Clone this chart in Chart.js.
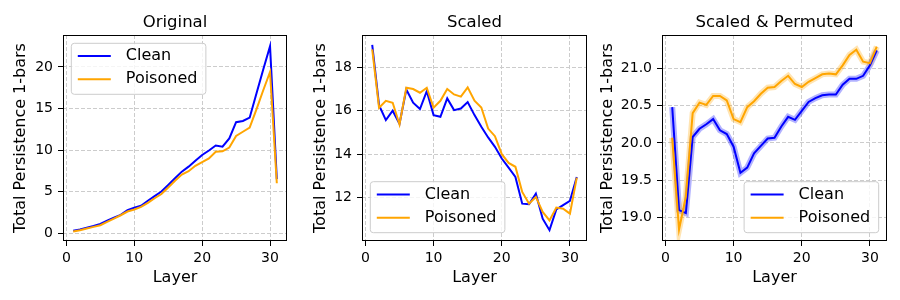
<!DOCTYPE html>
<html>
<head>
<meta charset="utf-8">
<script src="https://cdn.jsdelivr.net/npm/chart.js@4.4.1/dist/chart.umd.min.js"></script>
<style>
  body { margin: 0; background: #fff; }
  #wrap { position: relative; width: 900px; height: 300px; }
  .panel { position: absolute; top: 0; width: 300px; height: 300px; }
</style>
</head>
<body>
<div id="wrap">
  <div class="panel" style="left:0px"><canvas id="c1" width="300" height="300"></canvas></div>
  <div class="panel" style="left:300px"><canvas id="c2" width="300" height="300"></canvas></div>
  <div class="panel" style="left:600px"><canvas id="c3" width="300" height="300"></canvas></div>
</div>
<script>
// -------- data --------
const layers = [1, 2, 3, 4, 5, 6, 7, 8, 9, 10, 11, 12, 13, 14, 15, 16, 17, 18, 19, 20, 21, 22, 23, 24, 25, 26, 27, 28, 29, 30, 31];
const xTicks = [0, 10, 20, 30];

// Original
const origClean = [0.3, 0.45, 0.65, 0.85, 1.1, 1.5, 1.85, 2.2, 2.75, 3.05, 3.3, 3.9, 4.45, 5.0, 5.8, 6.6, 7.4, 8.0, 8.7, 9.4, 9.95, 10.55, 10.4, 11.4, 13.35, 13.5, 13.9, 16.8, 19.7, 22.5, 6.5];
const origPoisoned = [0.2, 0.35, 0.55, 0.75, 0.95, 1.35, 1.75, 2.15, 2.6, 2.85, 3.15, 3.65, 4.2, 4.7, 5.5, 6.3, 7.05, 7.45, 8.1, 8.55, 9.0, 9.8, 9.85, 10.3, 11.7, 12.2, 12.7, 14.9, 17.2, 19.4, 6.0];
const origTicks = [0, 5, 10, 15, 20];

// Scaled
const scaledClean = [19.03, 16.26, 15.57, 16.0, 15.4, 16.98, 16.37, 16.08, 16.9, 15.8, 15.72, 16.57, 16.03, 16.1, 16.4, 15.8, 15.26, 14.77, 14.34, 13.8, 13.38, 12.95, 11.72, 11.69, 12.18, 11.03, 10.5, 11.45, 11.65, 11.85, 12.95];
const scaledPoisoned = [18.83, 16.14, 16.46, 16.37, 15.37, 17.06, 17.0, 16.83, 17.06, 16.14, 16.46, 17.0, 16.75, 16.65, 17.08, 16.46, 16.15, 15.18, 14.83, 14.0, 13.6, 13.42, 12.26, 11.72, 12.03, 11.34, 10.95, 11.54, 11.49, 11.26, 12.92];
const scaledTicks = [12, 14, 16, 18];

// Scaled & Permuted
const permClean = [20.48, 19.1, 19.06, 20.08, 20.19, 20.25, 20.32, 20.17, 20.12, 19.95, 19.6, 19.67, 19.86, 19.96, 20.06, 20.07, 20.22, 20.35, 20.31, 20.43, 20.55, 20.6, 20.64, 20.65, 20.65, 20.78, 20.86, 20.86, 20.9, 21.04, 21.24];
const permPoisoned = [20.07, 18.84, 19.28, 20.4, 20.54, 20.51, 20.63, 20.63, 20.57, 20.32, 20.28, 20.48, 20.56, 20.66, 20.74, 20.75, 20.83, 20.9, 20.79, 20.75, 20.82, 20.87, 20.92, 20.93, 20.92, 21.04, 21.18, 21.25, 21.09, 21.07, 21.29];
const permTicks = [19.0, 19.5, 20.0, 20.5, 21.0];

const BLUE = "#0000ff";
const ORANGE = "#ffa500";
const FONT = "'DejaVu Sans', sans-serif";

Chart.defaults.font.family = FONT;
Chart.defaults.color = "#000";

// -------- frame, title over the axes, matplotlib style legend --------
const framePlugin = {
  id: "frameLegend",
  afterDraw(chart, args, opts) {
    const ctx = chart.ctx;
    const a = chart.chartArea;
    ctx.save();
    ctx.strokeStyle = "#000";
    ctx.lineWidth = 1;
    ctx.strokeRect(Math.round(a.left) + 0.5, Math.round(a.top) + 0.5,
      Math.round(a.right - a.left) - 1, Math.round(a.bottom - a.top) - 1);

    // title, centred on the plot box like matplotlib
    ctx.font = "16.5px " + FONT;
    ctx.fillStyle = "#000";
    ctx.textAlign = "center";
    ctx.textBaseline = "middle";
    ctx.fillText(opts.title, (a.left + a.right) / 2, 22.3);

    // legend
    const items = chart.data.datasets.filter((d) => d.label);
    ctx.font = "16px " + FONT;
    const textW = Math.max(...items.map((d) => ctx.measureText(d.label).width));
    const w = 6.5 + 33 + 15 + textW + 8.5;
    const h = 51;
    const pad = 8.3;
    const loc = opts.loc || "upper left";
    const x = loc.includes("left") ? a.left + pad : a.right - pad - w;
    const y = loc.includes("upper") ? a.top + pad : a.bottom - pad - h;
    const r = 3;
    ctx.beginPath();
    ctx.moveTo(x + r, y);
    ctx.lineTo(x + w - r, y);
    ctx.arcTo(x + w, y, x + w, y + r, r);
    ctx.lineTo(x + w, y + h - r);
    ctx.arcTo(x + w, y + h, x + w - r, y + h, r);
    ctx.lineTo(x + r, y + h);
    ctx.arcTo(x, y + h, x, y + h - r, r);
    ctx.lineTo(x, y + r);
    ctx.arcTo(x, y, x + r, y, r);
    ctx.closePath();
    ctx.fillStyle = "rgba(255,255,255,0.8)";
    ctx.fill();
    ctx.strokeStyle = "#cccccc";
    ctx.stroke();

    items.forEach((d, i) => {
      const cy = y + 12.7 + i * 23.3;
      ctx.strokeStyle = d.borderColor;
      ctx.lineWidth = 2;
      ctx.beginPath();
      ctx.moveTo(x + 6.5, cy);
      ctx.lineTo(x + 39.5, cy);
      ctx.stroke();
      ctx.fillStyle = "#000";
      ctx.textBaseline = "middle";
      ctx.textAlign = "left";
      ctx.fillText(d.label, x + 54.5, cy);
    });
    ctx.restore();
  },
};

// -------- build one panel --------
function makeChart(id, title, clean, poisoned, yTicks, yMin, yMax, cfg) {
  const datasets = [];
  if (cfg.halo) {
    datasets.push({ data: clean, borderColor: "rgba(0,0,255,0.3)", borderWidth: 6, order: 3 });
    datasets.push({ data: poisoned, borderColor: "rgba(255,165,0,0.3)", borderWidth: 6, order: 2 });
  }
  datasets.push({ label: "Clean", data: clean, borderColor: BLUE, borderWidth: 2, order: 1 });
  datasets.push({ label: "Poisoned", data: poisoned, borderColor: ORANGE, borderWidth: 2, order: 0 });

  return new Chart(document.getElementById(id), {
    type: "line",
    data: { labels: layers, datasets: datasets },
    options: {
      responsive: false,
      animation: false,
      layout: { padding: { left: 0, right: 13, top: 35, bottom: 0 } },
      elements: { point: { radius: 0 }, line: { tension: 0, fill: false } },
      plugins: {
        legend: { display: false },
        tooltip: { enabled: false },
        title: { display: false },
        frameLegend: { loc: cfg.loc, title: title },
      },
      scales: {
        x: {
          type: "linear",
          min: -0.5,
          max: 32.5,
          afterBuildTicks: (s) => { s.ticks = xTicks.map((v) => ({ value: v })); },
          afterFit: (s) => { s.height = 59; },
          ticks: { font: { size: 14 }, padding: 4, maxRotation: 0, autoSkip: false, color: "#000" },
          grid: { color: "#cccccc", lineWidth: 1, tickLength: 5, tickColor: "#000", tickWidth: 1 },
          border: { display: false, dash: [4, 2] },
          title: { display: true, text: "Layer", font: { size: 16 }, padding: { top: 0, bottom: 13 } },
        },
        y: {
          type: "linear",
          min: yMin,
          max: yMax,
          afterBuildTicks: (s) => { s.ticks = yTicks.map((v) => ({ value: v })); },
          afterFit: (s) => { s.width = cfg.yWidth; },
          ticks: {
            font: { size: 14 },
            padding: 5,
            color: "#000",
            callback: (v) => (cfg.decimals ? Number(v).toFixed(cfg.decimals) : String(v)),
          },
          grid: { color: "#cccccc", lineWidth: 1, tickLength: 5, tickColor: "#000", tickWidth: 1 },
          border: { display: false, dash: [4, 2] },
          title: {
            display: true,
            text: "Total Persistence 1-bars",
            font: { size: 16, lineHeight: 1 },
            padding: { top: cfg.yTitlePad, bottom: 0 },
          },
        },
      },
    },
    plugins: [framePlugin],
  });
}

makeChart("c1", "Original", origClean, origPoisoned, origTicks, -0.95, 23.85,
  { loc: "upper left", yWidth: 63, decimals: 0, halo: false, yTitlePad: 13 });
makeChart("c2", "Scaled", scaledClean, scaledPoisoned, scaledTicks, 10.0, 19.49,
  { loc: "lower left", yWidth: 62, decimals: 0, halo: false, yTitlePad: 13 });
makeChart("c3", "Scaled & Permuted", permClean, permPoisoned, permTicks, 18.686, 21.447,
  { loc: "lower right", yWidth: 62, decimals: 1, halo: true, yTitlePad: 0 });
</script>
</body>
</html>
